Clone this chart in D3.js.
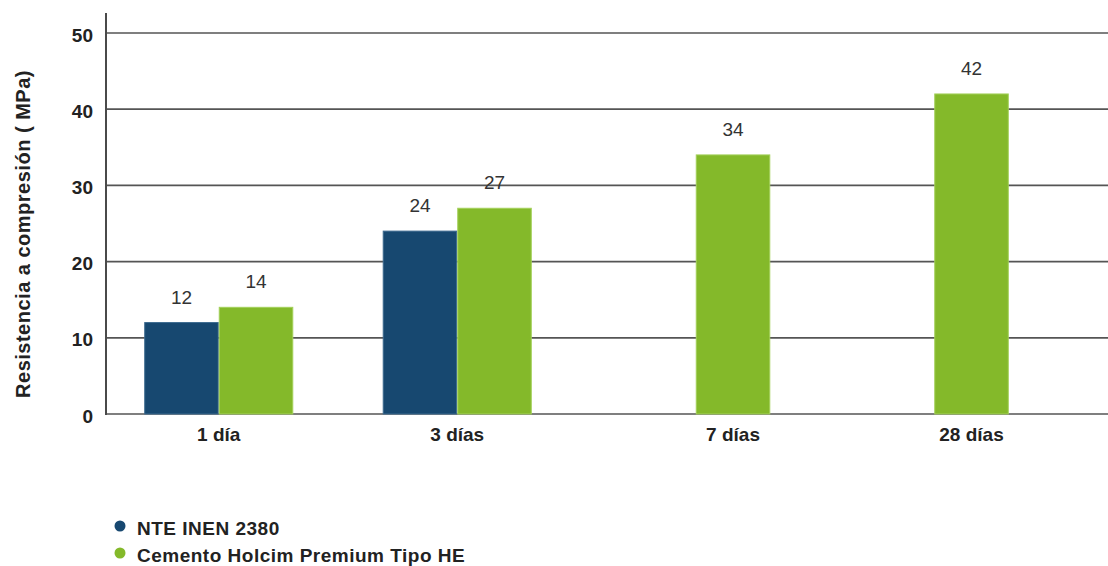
<!DOCTYPE html>
<html>
<head>
<meta charset="utf-8">
<script src="https://cdn.jsdelivr.net/npm/d3@7"></script>
<style>
  html, body { margin: 0; padding: 0; background: #ffffff; }
  svg { display: block; font-family: "Liberation Sans", Arial, sans-serif; }
</style>
</head>
<body>
<svg id="chart" width="1108" height="566"></svg>
<script>
// Compressive strength by curing age
const categories = ["1 día", "3 días", "7 días", "28 días"];
const seriesNames = ["NTE INEN 2380", "Cemento Holcim Premium Tipo HE"];
const nteValues = [12, 24, null, null];
const holcimValues = [14, 27, 34, 42];
const yTicks = [0, 10, 20, 30, 40, 50];
const yTitle = "Resistencia a compresión ( MPa)";

const colors = { "NTE INEN 2380": "#174870", "Cemento Holcim Premium Tipo HE": "#84b92a" };
const edges = { "NTE INEN 2380": "#3d6a8f", "Cemento Holcim Premium Tipo HE": "#a3d05a" };

const svg = d3.select("#chart");
const axisX = 106, plotRight = 1108;

const y = d3.scaleLinear().domain([0, 50]).range([414, 33]);

const x0 = d3.scaleBand()
  .domain(categories)
  .range([99.5, 1053.5])
  .paddingInner(0.375)
  .paddingOuter(0.1875);

const x1 = d3.scaleBand()
  .domain(seriesNames)
  .range([0, x0.bandwidth()])
  .padding(0);

// horizontal gridlines
svg.append("g")
  .selectAll("line")
  .data(yTicks)
  .join("line")
  .attr("x1", axisX).attr("x2", plotRight)
  .attr("y1", d => y(d)).attr("y2", d => y(d))
  .attr("stroke", "#555")
  .attr("stroke-width", 1.7);

// y axis labels
svg.append("g")
  .selectAll("text")
  .data(yTicks)
  .join("text")
  .attr("x", axisX - 13)
  .attr("y", d => y(d) + 2)
  .attr("dy", "0.35em")
  .attr("text-anchor", "end")
  .attr("font-size", 19)
  .attr("font-weight", "bold")
  .attr("fill", "#222")
  .text(d => d);

// y axis line
svg.append("line")
  .attr("x1", axisX).attr("x2", axisX)
  .attr("y1", 13).attr("y2", y(0) + 1)
  .attr("stroke", "#4a4a4a")
  .attr("stroke-width", 2);

// y axis title
svg.append("text")
  .attr("transform", `translate(30, 234) rotate(-90)`)
  .attr("text-anchor", "middle")
  .attr("font-size", 20)
  .attr("font-weight", "bold")
  .attr("letter-spacing", 0.5)
  .attr("fill", "#222")
  .text(yTitle);

// bar records
const rows = categories.map((c, i) => ({
  category: c,
  bars: [
    { series: seriesNames[0], value: nteValues[i] },
    { series: seriesNames[1], value: holcimValues[i] }
  ].filter(b => b.value !== null)
}));

const groups = svg.append("g")
  .selectAll("g")
  .data(rows)
  .join("g")
  .attr("transform", d => `translate(${x0(d.category)},0)`);

groups.selectAll("rect")
  .data(d => d.bars)
  .join("rect")
  .attr("x", d => x1(d.series) + 0.5)
  .attr("width", x1.bandwidth() - 1)
  .attr("y", d => y(d.value))
  .attr("height", d => y(0) - y(d.value))
  .attr("fill", d => colors[d.series])
  .attr("stroke", d => edges[d.series])
  .attr("stroke-width", 1);

// value labels
groups.selectAll("text.value")
  .data(d => d.bars)
  .join("text")
  .attr("class", "value")
  .attr("x", d => x1(d.series) + x1.bandwidth() / 2)
  .attr("y", d => y(d.value) - 19)
  .attr("text-anchor", "middle")
  .attr("font-size", 19)
  .attr("fill", "#333")
  .text(d => d.value);

// category labels, centred under the bars present in each group
svg.append("g")
  .selectAll("text")
  .data(rows)
  .join("text")
  .attr("x", d => {
    const xs = d.bars.map(b => x0(d.category) + x1(b.series) + x1.bandwidth() / 2);
    return d3.mean(xs);
  })
  .attr("y", 441)
  .attr("text-anchor", "middle")
  .attr("font-size", 19)
  .attr("font-weight", "bold")
  .attr("fill", "#222")
  .text(d => d.category);

// legend
const legend = svg.append("g")
  .selectAll("g")
  .data(seriesNames)
  .join("g")
  .attr("transform", (d, i) => `translate(0, ${i * 27})`);

legend.append("circle")
  .attr("cx", 120).attr("cy", 526)
  .attr("r", 5.5)
  .attr("fill", d => colors[d]);

legend.append("text")
  .attr("x", 137).attr("y", 535)
  .attr("font-size", 19)
  .attr("font-weight", "bold")
  .attr("letter-spacing", 0.5)
  .attr("fill", "#222")
  .text(d => d);
</script>
</body>
</html>
